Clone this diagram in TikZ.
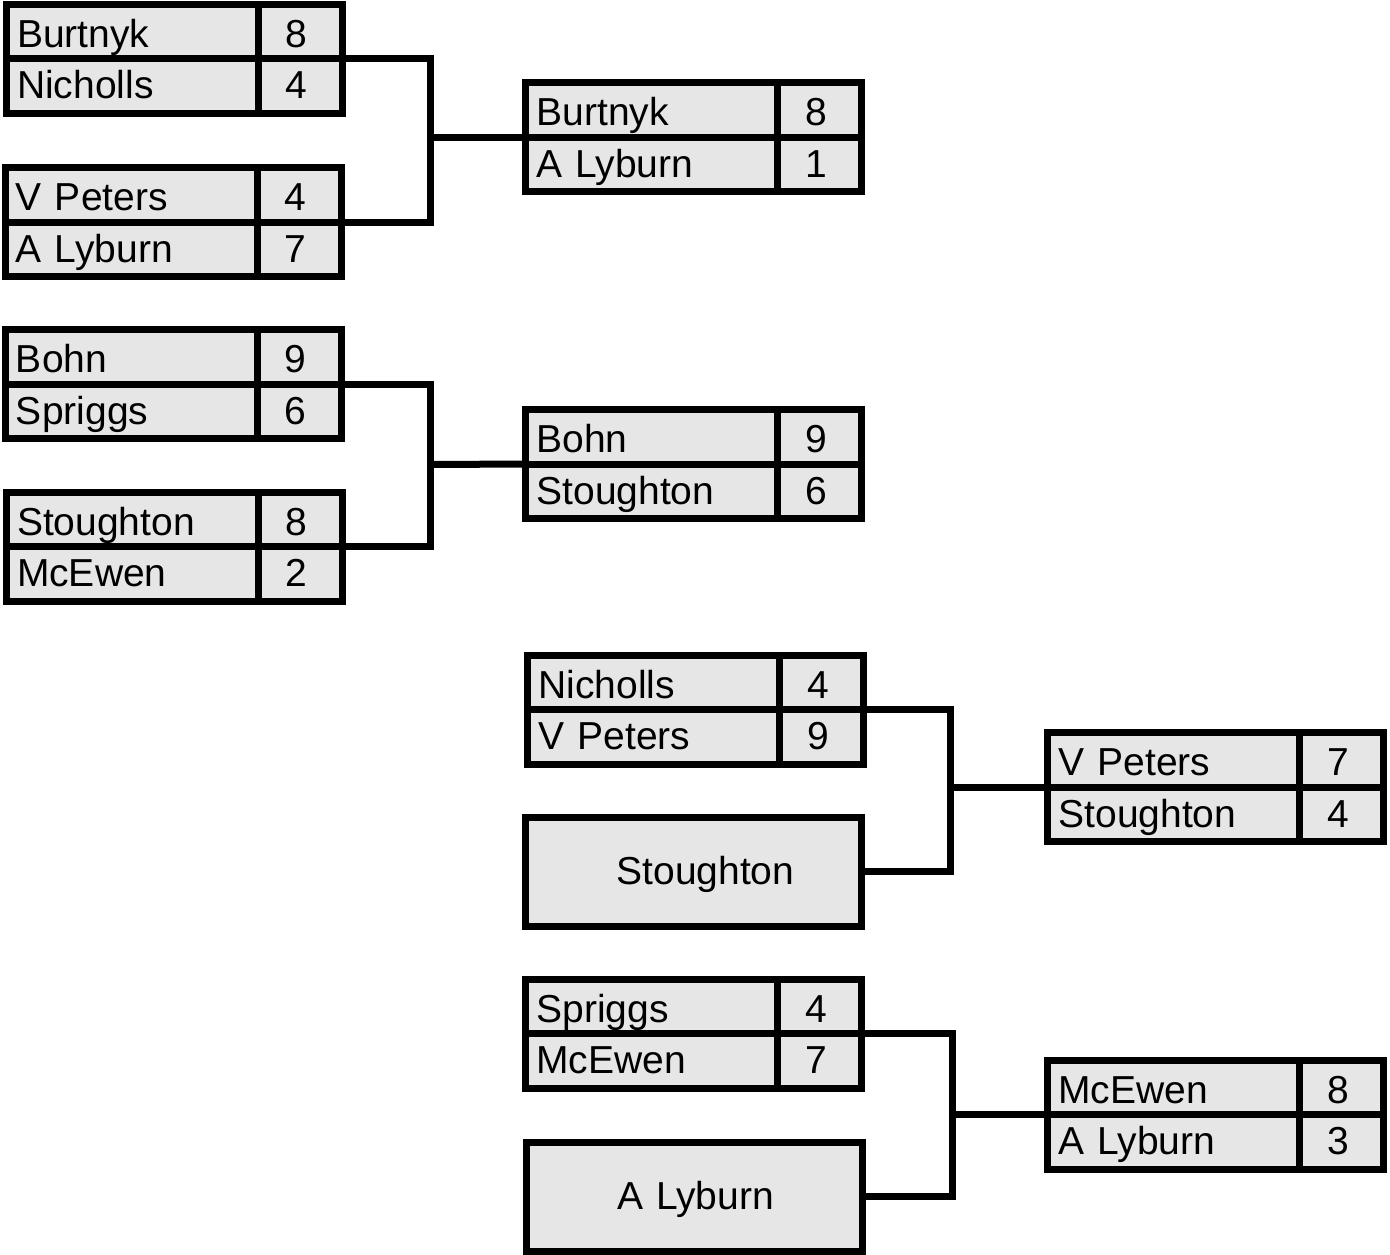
\documentclass[tikz,border=0pt]{standalone}
\usepackage{fontspec}
\setmainfont{Liberation Sans}
\definecolor{cellgray}{HTML}{E6E6E6}
\tikzset{
  cellbase/.style={draw=black, fill=cellgray, line width=7pt, inner ysep=0pt,
    outer sep=0pt, font=\fontsize{39}{46}\selectfont},
  namecell/.style={cellbase, inner xsep=11pt, text width=230pt, align=left,
    minimum height=54.5pt},
  scorecell/.style={cellbase, inner xsep=0pt, minimum width=84pt, align=center,
    minimum height=54.5pt},
  rowone/.style={text height=36pt, text depth=4pt},
  rowtwo/.style={text height=30pt, text depth=4pt},
  singlecell/.style={cellbase, inner xsep=9pt, text width=318pt, align=left,
    minimum height=109pt, text height=30pt, text depth=4pt},
  conn/.style={draw=black, line width=7pt, line join=miter},
}
\newcommand\pairbox[7]{%
  \node[namecell,rowone]  (#1n1) at ({#2+126},{#3+27.25}) {#4};
  \node[scorecell,rowone] (#1s1) at ({#2+294},{#3+27.25}) {\kern-7pt #5};
  \node[namecell,rowtwo]  (#1n2) at ({#2+126},{#3+81.75}) {#6};
  \node[scorecell,rowtwo] (#1s2) at ({#2+294},{#3+81.75}) {\kern-7pt #7};
}
\newcommand\singlebox[4]{%
  \node[singlecell] (#1) at ({#2+168},{#3+54.5}) {\hspace*{82pt}#4};
}
\begin{document}
\begin{tikzpicture}[x=1pt,y=-1pt]
\useasboundingbox (0,0) rectangle (1390,1254);
% first round
\pairbox{A}{6}{4}{Burtnyk}{8}{Nicholls}{4}
\pairbox{B}{5}{167.5}{V Peters}{4}{A Lyburn}{7}
\pairbox{C}{5}{329.5}{Bohn}{9}{Spriggs}{6}
\pairbox{D}{6}{492}{Stoughton}{8}{McEwen}{2}
% second column
\pairbox{Ra}{525.5}{82.5}{Burtnyk}{8}{A Lyburn}{1}
\pairbox{Rb}{525.5}{409.5}{Bohn}{9}{Stoughton}{6}
\pairbox{E}{527.5}{655}{Nicholls}{4}{V Peters}{9}
\singlebox{F}{525.5}{817}{Stoughton}
\pairbox{H}{525.5}{979}{Spriggs}{4}{McEwen}{7}
\singlebox{I}{526}{1142}{A Lyburn}
% third column
\pairbox{G}{1047.5}{732.5}{V Peters}{7}{Stoughton}{4}
\pairbox{J}{1047.5}{1060}{McEwen}{8}{A Lyburn}{3}
% connectors
\coordinate (j1) at (430,137);
\coordinate (j2) at (430,464.5);
\coordinate (j3) at (950.5,787);
\coordinate (j4) at (952,1114.5);
\draw[conn] (As1.south east) -| (j1) |- (Bs1.south east);
\draw[conn] (j1) -- (Ran1.south west);
\draw[conn] (Cs1.south east) -| (j2) |- (Ds1.south east);
\draw[conn] (j2) -- (Rbn1.south west);
\draw[conn] (Es1.south east) -| (j3) |- (F.east);
\draw[conn] (j3) -- (Gn1.south west);
\draw[conn] (Hs1.south east) -| (j4) |- (I.east);
\draw[conn] (j4) -- (Jn1.south west);
\end{tikzpicture}
\end{document}
